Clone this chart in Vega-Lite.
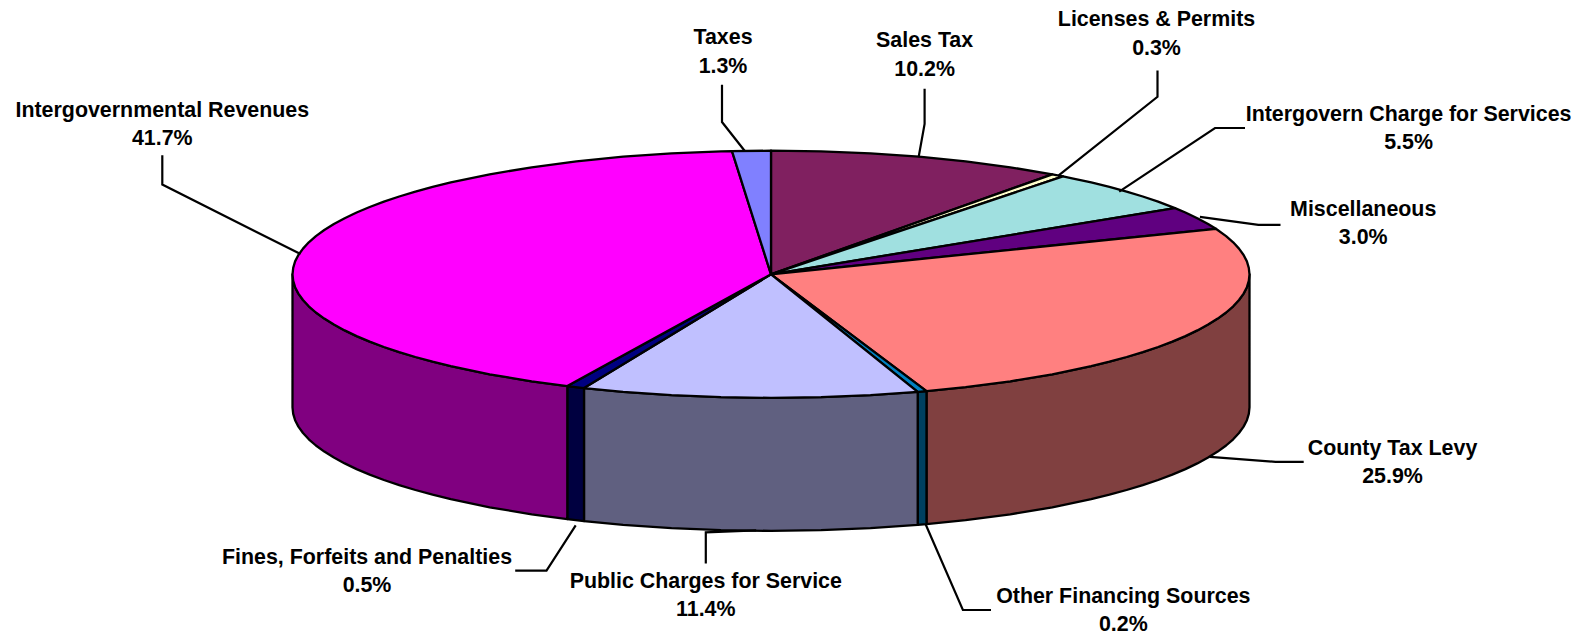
{"$schema":"https://vega.github.io/schema/vega-lite/v6.json","width":1581,"height":635,"padding":0,"autosize":{"type":"none"},"background":"white","config":{"view":{"stroke":null}},"projection":{"type":"identity","reflectY":true,"scale":1,"translate":[771,274.3]},"datasets":{"slices":[
{"type":"Feature","properties":{"key":"County Tax Levy side"},"geometry":{"type":"Polygon","coordinates":[[[478.5,0],[477.8,-6.5],[475.9,-12.9],[472.6,-19.3],[468,-25.7],[462.2,-32],[455.1,-38.2],[446.7,-44.3],[437.1,-50.3],[426.3,-56.1],[414.4,-61.8],[401.3,-67.3],[387.1,-72.7],[371.8,-77.8],[355.6,-82.7],[338.4,-87.4],[320.2,-91.9],[281.3,-100],[239.3,-107],[194.6,-112.9],[155.5,-116.9],[155.5,-249.9],[194.6,-245.9],[239.3,-240],[281.3,-233],[320.2,-224.9],[338.4,-220.4],[355.6,-215.7],[371.8,-210.8],[387.1,-205.7],[401.3,-200.3],[414.4,-194.8],[426.3,-189.1],[437.1,-183.3],[446.7,-177.3],[455.1,-171.2],[462.2,-165],[468,-158.7],[472.6,-152.3],[475.9,-145.9],[477.8,-139.5],[478.5,-133],[478.5,0]]]}},
{"type":"Feature","properties":{"key":"Other Financing Sources side"},"geometry":{"type":"Polygon","coordinates":[[[155.5,-116.9],[146.7,-117.6],[146.7,-250.6],[155.5,-249.9],[155.5,-116.9]]]}},
{"type":"Feature","properties":{"key":"Public Charges for Service side"},"geometry":{"type":"Polygon","coordinates":[[[146.7,-117.6],[99.5,-120.9],[50,-122.9],[0,-123.6],[-50,-122.9],[-99.5,-120.9],[-147.9,-117.6],[-187,-113.8],[-187,-246.8],[-147.9,-250.6],[-99.5,-253.9],[-50,-255.9],[0,-256.6],[50,-255.9],[99.5,-253.9],[146.7,-250.6],[146.7,-117.6]]]}},
{"type":"Feature","properties":{"key":"Fines, Forfeits and Penalties side"},"geometry":{"type":"Polygon","coordinates":[[[-187,-113.8],[-203.7,-111.8],[-203.7,-244.8],[-187,-246.8],[-187,-113.8]]]}},
{"type":"Feature","properties":{"key":"Intergovernmental Revenues side"},"geometry":{"type":"Polygon","coordinates":[[[-203.7,-111.8],[-239.3,-107],[-281.3,-100],[-320.2,-91.9],[-338.4,-87.4],[-355.6,-82.7],[-371.8,-77.8],[-387.1,-72.7],[-401.3,-67.3],[-414.4,-61.8],[-426.3,-56.1],[-437.1,-50.3],[-446.7,-44.3],[-455.1,-38.2],[-462.2,-32],[-468,-25.7],[-472.6,-19.3],[-475.9,-12.9],[-477.8,-6.5],[-478.5,0],[-478.5,-133],[-477.8,-139.5],[-475.9,-145.9],[-472.6,-152.3],[-468,-158.7],[-462.2,-165],[-455.1,-171.2],[-446.7,-177.3],[-437.1,-183.3],[-426.3,-189.1],[-414.4,-194.8],[-401.3,-200.3],[-387.1,-205.7],[-371.8,-210.8],[-355.6,-215.7],[-338.4,-220.4],[-320.2,-224.9],[-281.3,-233],[-239.3,-240],[-203.7,-244.8],[-203.7,-111.8]]]}},
{"type":"Feature","properties":{"key":"Sales Tax"},"geometry":{"type":"Polygon","coordinates":[[[0,0],[0,123.6],[50,122.9],[99.5,120.9],[147.9,117.6],[194.6,112.9],[239.3,107],[281.3,100],[0,0]]]}},
{"type":"Feature","properties":{"key":"Licenses & Permits"},"geometry":{"type":"Polygon","coordinates":[[[0,0],[281.3,100],[292,97.9],[0,0]]]}},
{"type":"Feature","properties":{"key":"Intergovern Charge for Services"},"geometry":{"type":"Polygon","coordinates":[[[0,0],[292,97.9],[301.1,96],[320.2,91.9],[338.4,87.4],[355.6,82.7],[371.8,77.8],[387.1,72.7],[404,66.2],[0,0]]]}},
{"type":"Feature","properties":{"key":"Miscellaneous"},"geometry":{"type":"Polygon","coordinates":[[[0,0],[404,66.2],[414.4,61.8],[426.3,56.1],[437.1,50.3],[444.9,45.5],[0,0]]]}},
{"type":"Feature","properties":{"key":"County Tax Levy"},"geometry":{"type":"Polygon","coordinates":[[[0,0],[444.9,45.5],[455.1,38.2],[462.2,32],[468,25.7],[472.6,19.3],[475.9,12.9],[477.8,6.5],[478.5,0],[477.8,-6.5],[475.9,-12.9],[472.6,-19.3],[468,-25.7],[462.2,-32],[455.1,-38.2],[446.7,-44.3],[437.1,-50.3],[426.3,-56.1],[414.4,-61.8],[401.3,-67.3],[387.1,-72.7],[371.8,-77.8],[355.6,-82.7],[338.4,-87.4],[320.2,-91.9],[281.3,-100],[239.3,-107],[194.6,-112.9],[155.5,-116.9],[0,0]]]}},
{"type":"Feature","properties":{"key":"Other Financing Sources"},"geometry":{"type":"Polygon","coordinates":[[[0,0],[155.5,-116.9],[146.7,-117.6],[0,0]]]}},
{"type":"Feature","properties":{"key":"Public Charges for Service"},"geometry":{"type":"Polygon","coordinates":[[[0,0],[146.7,-117.6],[99.5,-120.9],[50,-122.9],[0,-123.6],[-50,-122.9],[-99.5,-120.9],[-147.9,-117.6],[-187,-113.8],[0,0]]]}},
{"type":"Feature","properties":{"key":"Fines, Forfeits and Penalties"},"geometry":{"type":"Polygon","coordinates":[[[0,0],[-187,-113.8],[-203.7,-111.8],[0,0]]]}},
{"type":"Feature","properties":{"key":"Intergovernmental Revenues"},"geometry":{"type":"Polygon","coordinates":[[[0,0],[-203.7,-111.8],[-239.3,-107],[-281.3,-100],[-320.2,-91.9],[-338.4,-87.4],[-355.6,-82.7],[-371.8,-77.8],[-387.1,-72.7],[-401.3,-67.3],[-414.4,-61.8],[-426.3,-56.1],[-437.1,-50.3],[-446.7,-44.3],[-455.1,-38.2],[-462.2,-32],[-468,-25.7],[-472.6,-19.3],[-475.9,-12.9],[-477.8,-6.5],[-478.5,0],[-477.8,6.5],[-475.9,12.9],[-472.6,19.3],[-468,25.7],[-462.2,32],[-455.1,38.2],[-446.7,44.3],[-437.1,50.3],[-426.3,56.1],[-414.4,61.8],[-401.3,67.3],[-387.1,72.7],[-371.8,77.8],[-355.6,82.7],[-338.4,87.4],[-320.2,91.9],[-281.3,100],[-239.3,107],[-194.6,112.9],[-147.9,117.6],[-99.5,120.9],[-50,122.9],[-39,123.2],[0,0]]]}},
{"type":"Feature","properties":{"key":"Taxes"},"geometry":{"type":"Polygon","coordinates":[[[0,0],[-39,123.2],[0,123.6],[0,0]]]}}
],"leaders":[
{"type":"Feature","properties":{"name":"Taxes"},"geometry":{"type":"LineString","coordinates":[[-49,189.6],[-49,152.3],[-26,123.1]]}},
{"type":"Feature","properties":{"name":"Sales Tax"},"geometry":{"type":"LineString","coordinates":[[153.6,185.6],[153.6,150.3],[147.6,117]]}},
{"type":"Feature","properties":{"name":"Licenses & Permits"},"geometry":{"type":"LineString","coordinates":[[386.5,203.7],[386.5,177.5],[287.7,98.9]]}},
{"type":"Feature","properties":{"name":"Intergovern Charge for Services"},"geometry":{"type":"LineString","coordinates":[[474,146.3],[444,146.3],[348.2,82.7]]}},
{"type":"Feature","properties":{"name":"Miscellaneous"},"geometry":{"type":"LineString","coordinates":[[509.5,49.4],[487.4,49.4],[428.9,57.5]]}},
{"type":"Feature","properties":{"name":"County Tax Levy"},"geometry":{"type":"LineString","coordinates":[[532.7,-187.5],[504.5,-187.5],[439,-182.5]]}},
{"type":"Feature","properties":{"name":"Other Financing Sources"},"geometry":{"type":"LineString","coordinates":[[220,-335.7],[191.9,-335.7],[154.6,-250]]}},
{"type":"Feature","properties":{"name":"Public Charges for Service"},"geometry":{"type":"LineString","coordinates":[[-65.2,-289.3],[-65.2,-258.1],[-14.8,-256.1]]}},
{"type":"Feature","properties":{"name":"Fines, Forfeits and Penalties"},"geometry":{"type":"LineString","coordinates":[[-255.8,-296.4],[-224.5,-296.4],[-195.3,-251]]}},
{"type":"Feature","properties":{"name":"Intergovernmental Revenues"},"geometry":{"type":"LineString","coordinates":[[-608.7,119],[-608.7,89.8],[-470.5,20.2]]}}
],"labels":[
{"name":"Sales Tax","share":0.102,"lon":153.6,"lat":233},
{"name":"Licenses & Permits","share":0.003,"lon":385.5,"lat":254.1},
{"name":"Intergovern Charge for Services","share":0.055,"lon":637.6,"lat":159.4},
{"name":"Miscellaneous","share":0.03,"lon":592.2,"lat":64.6},
{"name":"County Tax Levy","share":0.259,"lon":621.5,"lat":-174.4},
{"name":"Other Financing Sources","share":0.002,"lon":352.3,"lat":-322.7},
{"name":"Public Charges for Service","share":0.114,"lon":-65.2,"lat":-307.5},
{"name":"Fines, Forfeits and Penalties","share":0.005,"lon":-404,"lat":-283.3},
{"name":"Intergovernmental Revenues","share":0.417,"lon":-608.7,"lat":163.3},
{"name":"Taxes","share":0.013,"lon":-48,"lat":236}
]},
"layer":[
{"data":{"name":"slices"},"mark":{"type":"geoshape","stroke":"black","strokeWidth":2.3,"strokeJoin":"round"},"encoding":{"color":{"field":"properties.key","type":"nominal","legend":null,"scale":{"domain":["Sales Tax","Licenses & Permits","Intergovern Charge for Services","Miscellaneous","County Tax Levy","Other Financing Sources","Public Charges for Service","Fines, Forfeits and Penalties","Intergovernmental Revenues","Taxes","County Tax Levy side","Other Financing Sources side","Public Charges for Service side","Fines, Forfeits and Penalties side","Intergovernmental Revenues side"],"range":["#802060","#FFFFCC","#A0E0E0","#600080","#FF8080","#0080C0","#C0C0FF","#000080","#FF00FF","#8080FF","#804040","#004060","#606080","#000040","#800080"]}}}},
{"data":{"name":"leaders"},"mark":{"type":"geoshape","filled":false,"stroke":"black","strokeWidth":2.2}},
{"data":{"name":"labels"},"mark":{"type":"text","font":"Liberation Sans","fontWeight":"bold","fontSize":21.4,"color":"black","align":"center","baseline":"middle"},"encoding":{"longitude":{"field":"lon","type":"quantitative"},"latitude":{"field":"lat","type":"quantitative"},"text":{"field":"name","type":"nominal"}}},
{"data":{"name":"labels"},"mark":{"type":"text","font":"Liberation Sans","fontWeight":"bold","fontSize":21.4,"color":"black","align":"center","baseline":"middle","dy":28.3},"encoding":{"longitude":{"field":"lon","type":"quantitative"},"latitude":{"field":"lat","type":"quantitative"},"text":{"field":"share","type":"quantitative","format":".1%"}}}
]}
